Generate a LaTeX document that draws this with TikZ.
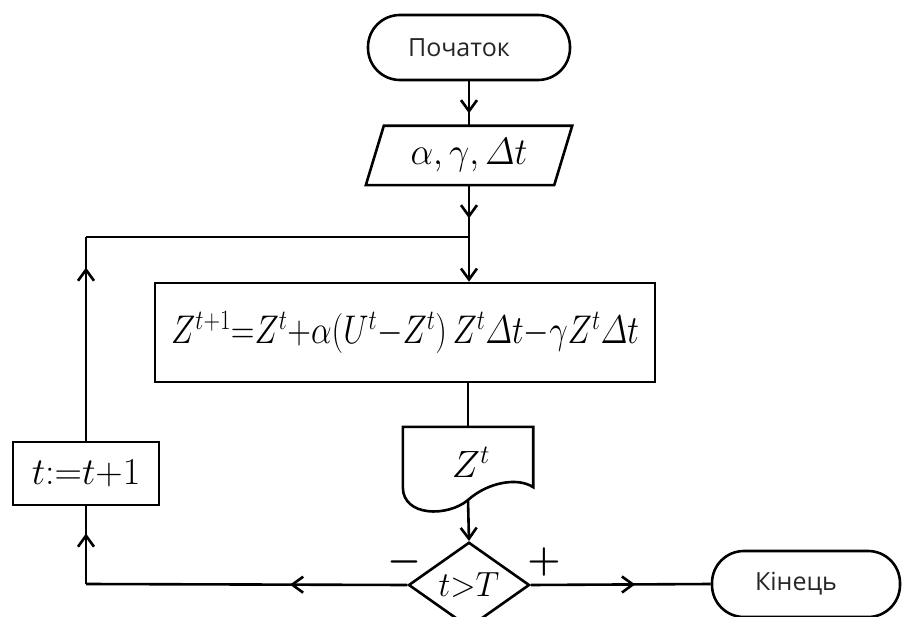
\RequirePackage{fix-cm}
\documentclass[tikz,border=0pt]{standalone}
\usepackage{fontspec}
\newfontfamily\cyr{Open Sans}
\usetikzlibrary{arrows.meta,shapes.geometric,decorations.markings}
\newcommand\iDelta{{\mathchar"0101}}
\tikzset{
  ln/.style={line width=2.6pt},
  tipv/.tip={Straight Barb[length=11pt,width=16pt]},
  arrowat/.style={postaction={decorate,decoration={markings,mark=at position #1 with {\arrow{tipv}}}}},
  term/.style={draw,ln,rounded corners=32pt,inner sep=0pt,font=\cyr\fontsize{25}{28}\selectfont,text=black!85},
  proc/.style={draw,ln,inner sep=0pt},
  ghost/.style={inner sep=0pt},
  mtext/.style={font=\fontsize{38}{42}\selectfont}
}
\begin{document}
\begin{tikzpicture}[x=1pt,y=-1pt]
\useasboundingbox (0,0) rectangle (902,617);
\clip (0,0) rectangle (902,617);
% nodes
\node[term,minimum width=202pt,minimum height=65pt] (start) at (469,47.5) {Початок\hspace*{20pt}};
\node[ghost,minimum width=188pt,minimum height=59pt,font=\fontsize{38}{42}\selectfont] (inp) at (469,155.5) {\scalebox{0.95}[1]{$\alpha,\gamma,\iDelta t$}};
\draw[ln] ([xshift=9pt]inp.north west) -- ([xshift=9pt]inp.north east) -- ([xshift=-9pt]inp.south east) -- ([xshift=-9pt]inp.south west) -- cycle;
\coordinate (j) at (469,237);
\coordinate (c1) at (86,237);
\coordinate (c2) at (86,584);
\node[proc,minimum width=500pt,minimum height=99pt,font=\fontsize{40}{44}\selectfont] (box) at (405,332.5)
  {\scalebox{0.82}[1]{$Z^{t{+}1}{=}Z^t{+}\alpha(U^t{-}Z^t)\,Z^t\iDelta t{-}\gamma Z^t\iDelta t$}};
\node[ghost,minimum width=130pt,minimum height=60pt] (doc) at (468,457) {};
\node[mtext] (doct) at (471,462) {$Z^t$};
\draw[ln] (doc.south west) -- (doc.north west) -- (doc.north east) -- (doc.south east)
  .. controls (518,477) and (488,482) .. (468,500)
  .. controls (448,517) and (403,517) .. (doc.south west) -- cycle;
\coordinate (docb) at (468,500);
\node[draw,ln,diamond,inner sep=0pt,minimum width=121pt,minimum height=74pt,font=\fontsize{35}{38}\selectfont] (dec) at (469,585) {\scalebox{0.95}[1]{$t{>}T$}};
\node[font=\fontsize{38}{44}\selectfont\boldmath] (minus) at (404,562) {$-$};
\node[font=\fontsize{38}{44}\selectfont\boldmath] (plus) at (544,562) {$+$};
\node[proc,minimum width=146pt,minimum height=63pt,mtext] (tbox) at (86,473.5) {$t{:=}t{+}1$};
\node[term,minimum width=188pt,minimum height=66pt] (end) at (806,584) {Кінець\hspace*{20pt}};
% connectors
\draw[ln,arrowat=0.72] (start.south) -- (inp.south |- inp.north);
\draw[ln,arrowat=0.64] (inp.south) -- (j);
\draw[ln,-{tipv}] (j) -- (j |- box.north);
\draw[ln] (j) -- (c1);
\draw[ln,arrowat=0.85] (tbox.north) -- (c1);
\draw[ln] (docb |- box.south) -- (docb |- doc.north);
\draw[ln,-{tipv}] (docb) -- (dec.north);
\draw[ln,arrowat=0.365] (dec.west) -- (c2);
\draw[ln,arrowat=0.65] (c2) -- (tbox.south);
\draw[ln,arrowat=0.58] (dec.east) -- (end.west);
\end{tikzpicture}
\end{document}
